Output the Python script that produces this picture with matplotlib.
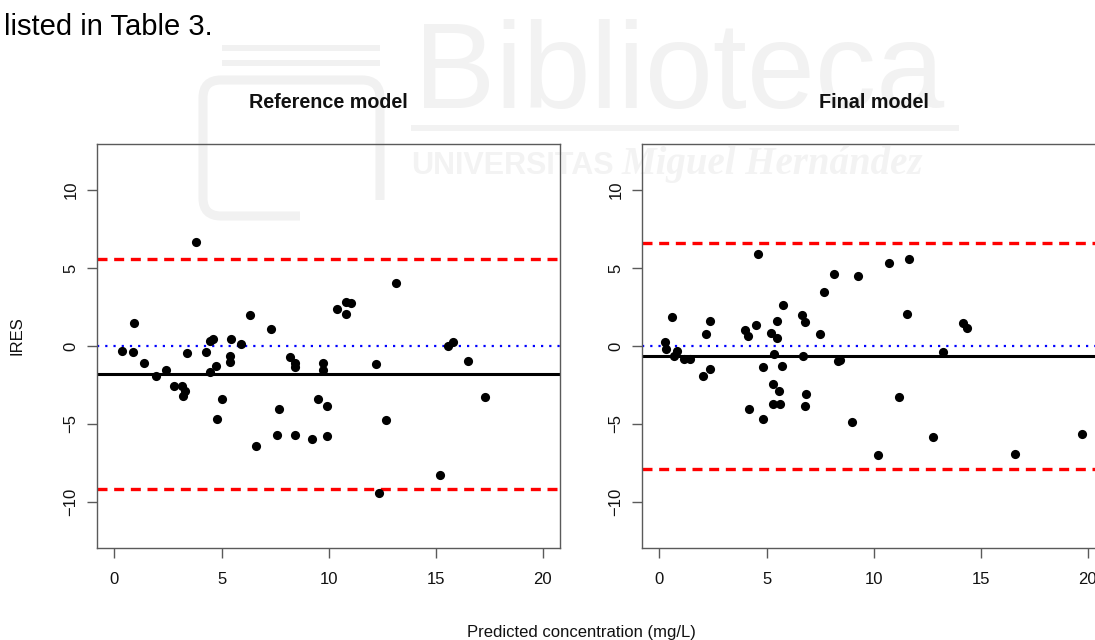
import matplotlib
matplotlib.use("Agg")
import matplotlib.pyplot as plt
from matplotlib.patches import FancyBboxPatch, Rectangle

plt.rcParams['font.family'] = ['Liberation Sans', 'DejaVu Sans']

# ---- data -------------------------------------------------------------
ref_pred = [0.34, 0.90, 0.87, 1.39, 1.92, 2.43, 2.77, 3.16, 3.29, 3.22,
            3.38, 3.82, 4.27, 4.47, 4.47, 4.58, 4.74, 5.00, 4.80, 5.42,
            5.41, 5.41, 5.90, 6.34, 7.32, 7.70, 8.18, 8.43, 8.44, 9.50,
            9.91, 9.72, 9.74, 10.39, 10.79, 11.03, 10.79, 13.13, 12.21, 15.58,
            15.81, 16.50, 17.29, 12.66, 6.60, 7.58, 8.43, 9.21, 9.93, 12.35, 15.19]
ref_ires = [-0.32, 1.45, -0.41, -1.09, -1.90, -1.54, -2.58, -2.56, -2.86, -3.18,
            -0.47, 6.65, -0.36, -1.69, 0.32, 0.43, -1.30, -3.43, -4.71, 0.43,
            -0.64, -1.00, 0.13, 1.96, 1.09, -4.01, -0.68, -1.09, -1.34, -3.39,
            -3.88, -1.09, -1.54, 2.39, 2.81, 2.73, 2.03, 4.07, -1.15, 0.00,
            0.23, -0.98, -3.26, -4.76, -6.44, -5.72, -5.74, -5.99, -5.80, -9.45, -8.30]

fin_pred = [0.26, 0.32, 0.57, 0.66, 0.82, 1.16, 1.44, 2.02, 2.17, 2.36,
            2.34, 4.01, 4.12, 4.18, 4.51, 4.60, 4.82, 4.82, 5.23, 5.33,
            5.29, 5.29, 5.47, 5.49, 5.58, 5.63, 5.72, 5.79, 6.66, 6.80,
            6.72, 6.83, 6.81, 7.50, 7.67, 8.17, 8.33, 8.45, 9.01, 9.26,
            10.71, 11.66, 11.57, 14.17, 14.38, 13.25, 11.18, 12.79, 10.21, 16.61, 19.74]
fin_ires = [0.23, -0.19, 1.83, -0.62, -0.30, -0.81, -0.81, -1.94, 0.77, -1.45,
            1.62, 1.00, 0.64, -4.01, 1.34, 5.93, -1.34, -4.67, 0.83, -0.49,
            -2.47, -3.71, 1.62, 0.53, -2.86, -3.71, -1.30, 2.62, 1.96, 1.52,
            -0.62, -3.11, -3.88, 0.75, 3.44, 4.65, -0.94, -0.88, -4.89, 4.52,
            5.31, 5.59, 2.07, 1.45, 1.15, -0.38, -3.24, -5.86, -6.97, -6.95, -5.67]

# mean residual and upper/lower limits for each model
ref_mean, ref_upper, ref_lower = -1.77, 5.61, -9.15
fin_mean, fin_upper, fin_lower = -0.66, 6.63, -7.91

panel_titles = ["Reference model", "Final model"]
x_ticks = [0, 5, 10, 15, 20]
y_ticks = [-10, -5, 0, 5, 10]

# ---- figure -----------------------------------------------------------
W, H = 1095, 640
fig = plt.figure(figsize=(W / 100, H / 100), dpi=100)
fig.patch.set_facecolor('white')

# faint library watermark behind the panels (pixel coordinates)
wm = fig.add_axes([0, 0, 1, 1], zorder=-5)
wm.set_xlim(0, W)
wm.set_ylim(H, 0)
wm.axis('off')
wm_col = '#f1f1f1'
wm.add_patch(FancyBboxPatch((203, 80), 177, 136,
                            boxstyle="round,pad=0,rounding_size=18",
                            fill=False, ec=wm_col, lw=6.5))
wm.add_patch(Rectangle((222, 45), 158, 6, color=wm_col, lw=0))
wm.add_patch(Rectangle((222, 60), 158, 6, color=wm_col, lw=0))
wm.add_patch(Rectangle((300, 200), 90, 25, color='white', lw=0))
wm.text(414, 108, "Biblioteca", fontsize=88, color='#f2f2f2',
        ha='left', va='baseline', family='Liberation Sans')
wm.add_patch(Rectangle((411, 125), 548, 6, color='#f2f2f2', lw=0))
wm.text(411, 174, "UNIVERSITAS", fontsize=22, color='#f3f3f3',
        fontweight='bold', ha='left', va='baseline', family='Liberation Sans')
wm.text(622, 174, "Miguel Hernández", fontsize=28, color='#f3f3f3',
        fontweight='bold', style='italic', ha='left', va='baseline',
        family='Liberation Serif')

# document text above the figure
fig.text(4 / W, 1 - 35 / H, "listed in Table 3.", fontsize=21,
         ha='left', va='baseline', color='black')

ax_left_px = [97.3, 642.3]
ax_w_px = 462.7
ax_top_px, ax_bot_px = 144.0, 548.0

panels = [
    (ref_pred, ref_ires, ref_mean, ref_upper, ref_lower),
    (fin_pred, fin_ires, fin_mean, fin_upper, fin_lower),
]

frame_col = '#5a5a5a'
for i, (xp, yr, m, up, lo) in enumerate(panels):
    ax = fig.add_axes([ax_left_px[i] / W, 1 - ax_bot_px / H,
                       ax_w_px / W, (ax_bot_px - ax_top_px) / H])
    ax.set_facecolor('none')
    ax.set_xlim(-0.8, 20.8)
    ax.set_ylim(-12.96, 12.96)

    ax.axhline(0, color='#0000ff', lw=1.6, dashes=(1, 2.7), zorder=2)
    ax.axhline(m, color='black', lw=2.2, zorder=2)
    ax.axhline(up, color='#ff0000', lw=2.4, dashes=(3.0, 2.0), zorder=2)
    ax.axhline(lo, color='#ff0000', lw=2.4, dashes=(3.0, 2.0), zorder=2)
    ax.plot(xp, yr, 'o', color='black', ms=6.6, mec='black', mew=0, zorder=3)

    ax.set_xticks(x_ticks)
    ax.set_yticks(y_ticks)
    ax.set_xticklabels([str(t) for t in x_ticks])
    ax.set_yticklabels([str(t).replace('-', '\u2212') for t in y_ticks])
    ax.tick_params(axis='both', direction='out', length=7.2, width=1.0,
                   color=frame_col, labelsize=12, labelcolor='#111111')
    ax.tick_params(axis='x', pad=10.0)
    ax.tick_params(axis='y', pad=6.5, labelrotation=90)
    for lab in ax.get_yticklabels():
        lab.set_va('center')
        lab.set_ha('right')
    for sp in ax.spines.values():
        sp.set_color(frame_col)
        sp.set_linewidth(1.0)

    cx = (ax_left_px[i] + ax_w_px / 2) / W
    fig.text(cx, 1 - 108 / H, panel_titles[i], fontsize=14.2,
             fontweight='bold', ha='center', va='baseline', color='#111111')

fig.text(581 / W, 1 - 632 / H, "Predicted concentration (mg/L)", fontsize=12,
         ha='center', va='center', color='#111111')
fig.text(17 / W, 1 - 336 / H, "IRES", fontsize=12, rotation=90,
         ha='center', va='center', color='#111111')

fig.savefig("out.png", dpi=100, facecolor='white')
